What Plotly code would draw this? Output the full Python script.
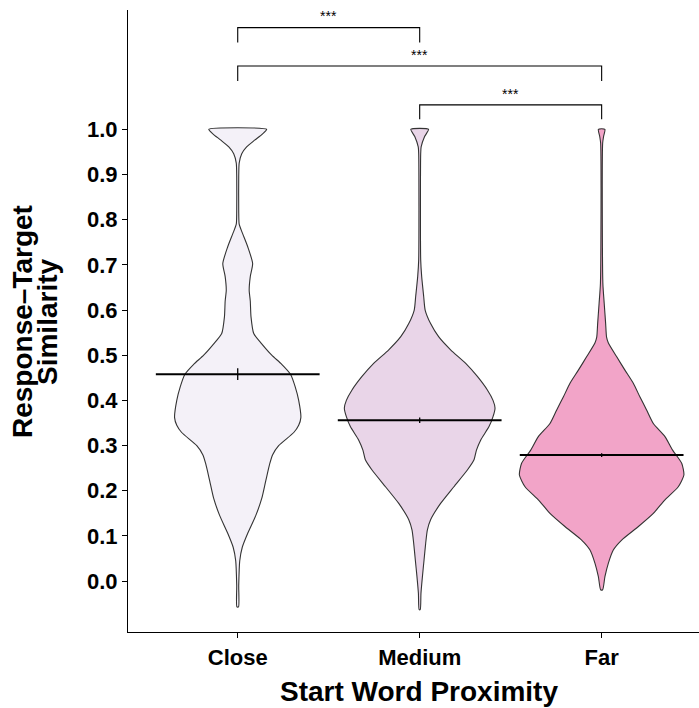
import plotly.graph_objects as go

# ---------------- data ----------------
categories = ["Close", "Medium", "Far"]
fill_colors = ["#F4F1F8", "#E9D5E8", "#F2A4C8"]

# violin outlines: similarity level and half-width of the density (category-axis units)
close_y = [1.0, 0.99, 0.976, 0.961, 0.946, 0.925, 0.895, 0.82, 0.79, 0.769, 0.74, 0.703,
           0.674, 0.644, 0.62, 0.585, 0.548, 0.525, 0.5, 0.48, 0.458, 0.43, 0.4, 0.362,
           0.345, 0.329, 0.30, 0.28, 0.26, 0.222, 0.183, 0.145, 0.106, 0.075, 0.045,
           -0.009, -0.057]
close_w = [0.159, 0.137, 0.093, 0.049, 0.022, 0.008, 0.0055, 0.0055, 0.008, 0.027, 0.055,
           0.082, 0.069, 0.063, 0.069, 0.073, 0.088, 0.132, 0.187, 0.242, 0.290, 0.316,
           0.335, 0.347, 0.335, 0.308, 0.225, 0.192, 0.176, 0.154, 0.132, 0.099, 0.055,
           0.025, 0.011, 0.0055, 0.0045]

medium_y = [1.0, 0.984, 0.961, 0.946, 0.711, 0.674, 0.63, 0.60, 0.57, 0.541, 0.512, 0.482,
            0.453, 0.423, 0.40, 0.383, 0.364, 0.342, 0.312, 0.29, 0.268, 0.246, 0.209,
            0.172, 0.136, 0.113, 0.084, 0.047, 0.01, -0.027, -0.063]
medium_w = [0.049, 0.027, 0.008, 0.0055, 0.0055, 0.011, 0.022, 0.030, 0.060, 0.104, 0.170,
            0.253, 0.317, 0.372, 0.403, 0.414, 0.403, 0.381, 0.335, 0.312, 0.298, 0.262,
            0.188, 0.115, 0.060, 0.042, 0.033, 0.024, 0.015, 0.007, 0.003]

far_y = [1.0, 0.985, 0.969, 0.66, 0.615, 0.57, 0.54, 0.527, 0.497, 0.467, 0.438, 0.408,
         0.379, 0.349, 0.32, 0.29, 0.261, 0.235, 0.209, 0.18, 0.15, 0.121, 0.091, 0.069,
         0.04, 0.01, -0.019]
far_w = [0.018, 0.011, 0.0055, 0.0066, 0.014, 0.022, 0.027, 0.037, 0.082, 0.128, 0.174,
         0.210, 0.247, 0.284, 0.348, 0.390, 0.440, 0.452, 0.421, 0.348, 0.284, 0.202,
         0.110, 0.064, 0.037, 0.018, 0.0055]

means = [0.458, 0.356, 0.279]
sems = [0.013, 0.006, 0.004]

# significance brackets
bracket_from = [1, 1, 2]
bracket_to = [2, 3, 3]
bracket_top = [1.225, 1.140, 1.054]
bracket_leg = [1.192, 1.107, 1.022]
bracket_label_y = [1.250, 1.165, 1.079]
bracket_labels = ["***", "***", "***"]

y_ticks = [0.0, 0.1, 0.2, 0.3, 0.4, 0.5, 0.6, 0.7, 0.8, 0.9, 1.0]

# ---------------- figure ----------------
FONT = "Liberation Sans, Arial, Helvetica, sans-serif"
fig = go.Figure()

profiles = [(close_y, close_w), (medium_y, medium_w), (far_y, far_w)]
for i, (ys, ws) in enumerate(profiles):
    c = i + 1
    xs = [c + w for w in ws] + [c - w for w in reversed(ws)]
    yy = list(ys) + list(reversed(ys))
    xs.append(xs[0]); yy.append(yy[0])
    fig.add_trace(go.Scatter(
        x=xs, y=yy, mode="lines", fill="toself",
        fillcolor=fill_colors[i],
        line=dict(color="#333333", width=1.1, shape="spline", smoothing=0.6),
        hoverinfo="skip", showlegend=False))

for i, m in enumerate(means):
    c = i + 1
    fig.add_trace(go.Scatter(x=[c - 0.45, c + 0.45], y=[m, m], mode="lines",
                             line=dict(color="black", width=2), showlegend=False,
                             hoverinfo="skip"))
    fig.add_trace(go.Scatter(x=[c], y=[m], mode="markers",
                             marker=dict(size=1, color="black", opacity=0),
                             error_y=dict(type="data", array=[sems[i]], color="black",
                                          thickness=1.3, width=0),
                             showlegend=False, hoverinfo="skip"))

for a, b, top, leg, ly, lab in zip(bracket_from, bracket_to, bracket_top, bracket_leg,
                                   bracket_label_y, bracket_labels):
    fig.add_trace(go.Scatter(x=[a, a, b, b], y=[leg, top, top, leg], mode="lines",
                             line=dict(color="black", width=1.1), showlegend=False,
                             hoverinfo="skip"))
    fig.add_annotation(x=(a + b) / 2, y=ly, xref="x", yref="y", text=lab,
                       showarrow=False, font=dict(family=FONT, size=14, color="black"),
                       xanchor="center", yanchor="middle")

L, R, T, B = 128, 0, 10, 76
W, H = 699, 708
pw, ph = W - L - R, H - T - B

def px_x(p):
    return (p - L) / pw

def px_y(p):
    return (H - B - p) / ph

fig.add_annotation(x=px_x(22), y=px_y(322), xref="paper", yref="paper",
                   text="Response–Target", textangle=-90, showarrow=False,
                   font=dict(family=FONT, size=28, color="black", weight="bold"),
                   xanchor="center", yanchor="middle")
fig.add_annotation(x=px_x(47), y=px_y(322), xref="paper", yref="paper",
                   text="Similarity", textangle=-90, showarrow=False,
                   font=dict(family=FONT, size=28, color="black", weight="bold"),
                   xanchor="center", yanchor="middle")
fig.add_annotation(x=px_x(419), y=px_y(691), xref="paper", yref="paper",
                   text="Start Word Proximity", showarrow=False,
                   font=dict(family=FONT, size=28, color="black", weight="bold"),
                   xanchor="center", yanchor="middle")

fig.update_layout(
    width=W, height=H,
    margin=dict(l=L, r=R, t=T, b=B),
    paper_bgcolor="white", plot_bgcolor="white",
    showlegend=False,
    xaxis=dict(range=[0.397, 3.535], tickmode="array", tickvals=[1, 2, 3],
               ticktext=categories, showgrid=False, zeroline=False,
               showline=True, linecolor="black", linewidth=1.2,
               ticks="outside", ticklen=5, tickwidth=1, tickcolor="black",
               tickfont=dict(family=FONT, size=22, color="black", weight="bold")),
    yaxis=dict(range=[-0.1125, 1.264], tickmode="array", tickvals=y_ticks,
               ticktext=[f"{v:.1f}" for v in y_ticks], showgrid=False, zeroline=False,
               showline=True, linecolor="black", linewidth=1.2,
               ticks="outside", ticklen=5, tickwidth=1, tickcolor="black",
               tickfont=dict(family=FONT, size=22, color="black", weight="bold")),
)

fig.write_html("out.html", config={"displayModeBar": False},
               post_script="document.body.style.margin='0';document.body.style.overflow='hidden';")
